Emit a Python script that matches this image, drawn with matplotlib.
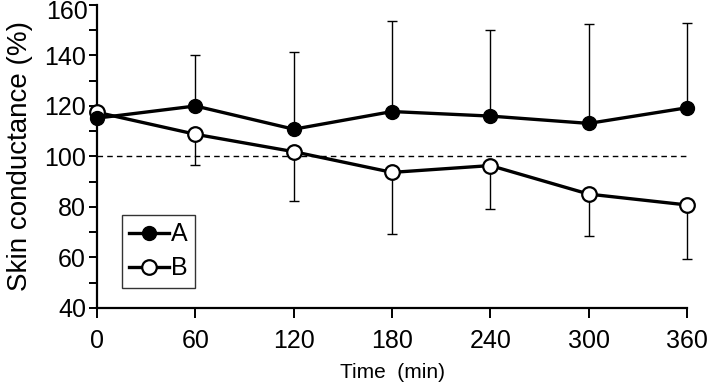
import matplotlib.pyplot as plt
from matplotlib.ticker import MultipleLocator, FuncFormatter

plt.rcParams['font.family'] = ['Liberation Sans', 'DejaVu Sans']

time_min = [0, 60, 120, 180, 240, 300, 360]
a_mean = [115.2, 120.0, 110.8, 117.8, 116.0, 113.1, 119.3]
a_upper = [115.2, 140.2, 141.5, 153.7, 150.1, 152.3, 152.7]
b_mean = [117.5, 108.8, 101.9, 93.7, 96.4, 85.1, 80.8]
b_lower = [117.5, 96.6, 82.4, 69.2, 79.2, 68.6, 59.3]
y_lo, y_hi = 40, 160

a_err = [[0] * len(a_mean), [u - m for u, m in zip(a_upper, a_mean)]]
b_err = [[m - l for m, l in zip(b_mean, b_lower)], [0] * len(b_mean)]

fig = plt.figure(figsize=(7.09, 3.84), dpi=100)
ax = fig.add_axes([0.137, 0.198, 0.832, 0.789])

ax.axhline(100, color='black', lw=1, ls=(0, (4, 3)), zorder=1)

for m, e in [(a_mean, a_err), (b_mean, b_err)]:
    eb = ax.errorbar(time_min, m, yerr=e, fmt='none', ecolor='black',
                     elinewidth=1, capsize=3.5, capthick=1, zorder=2)
    for art in eb.lines[1] + eb.lines[2]:
        art.set_clip_on(False)

ax.plot(time_min, a_mean, '-o', color='black', lw=2.4, ms=10,
        mfc='black', mec='black', label='A', zorder=4, clip_on=False)
ax.plot(time_min, b_mean, '-o', color='black', lw=2.4, ms=10.5,
        mfc='white', mec='black', mew=1.6, label='B', zorder=3, clip_on=False)

ax.set_xlim(0, 360)
ax.set_ylim(y_lo, y_hi)
ax.set_xticks(time_min)
ax.yaxis.set_major_locator(MultipleLocator(20))
ax.yaxis.set_minor_locator(MultipleLocator(10))
# top label is drawn separately, nudged down so it stays inside the figure
ax.yaxis.set_major_formatter(FuncFormatter(lambda v, p: '' if v >= y_hi else '%d' % v))
ax.annotate('%d' % y_hi, xy=(0, y_hi), xycoords=('axes fraction', 'data'),
            xytext=(-6.5, -4.8), textcoords='offset points',
            ha='right', va='center', fontsize=18)

for s in ['top', 'right']:
    ax.spines[s].set_visible(False)
for s in ['left', 'bottom']:
    ax.spines[s].set_linewidth(1.6)

ax.tick_params(axis='both', which='both', direction='out', width=1.4, labelsize=18)
ax.tick_params(axis='x', which='major', length=7, pad=8.5)
ax.tick_params(axis='y', which='major', length=6, pad=2)
ax.tick_params(axis='y', which='minor', length=6)

ax.set_xlabel('Time  (min)', fontsize=15, labelpad=7)
ax.set_ylabel('Skin conductance (%)', fontsize=20, labelpad=8)

leg = ax.legend(loc='lower left', bbox_to_anchor=(0.042, 0.066), fontsize=18,
                frameon=True, fancybox=False, edgecolor='black',
                handlelength=1.6, handletextpad=0.05, borderpad=0.3,
                labelspacing=0.4, borderaxespad=0)
leg.get_frame().set_linewidth(1.0)

fig.savefig('out.png', dpi=100)
